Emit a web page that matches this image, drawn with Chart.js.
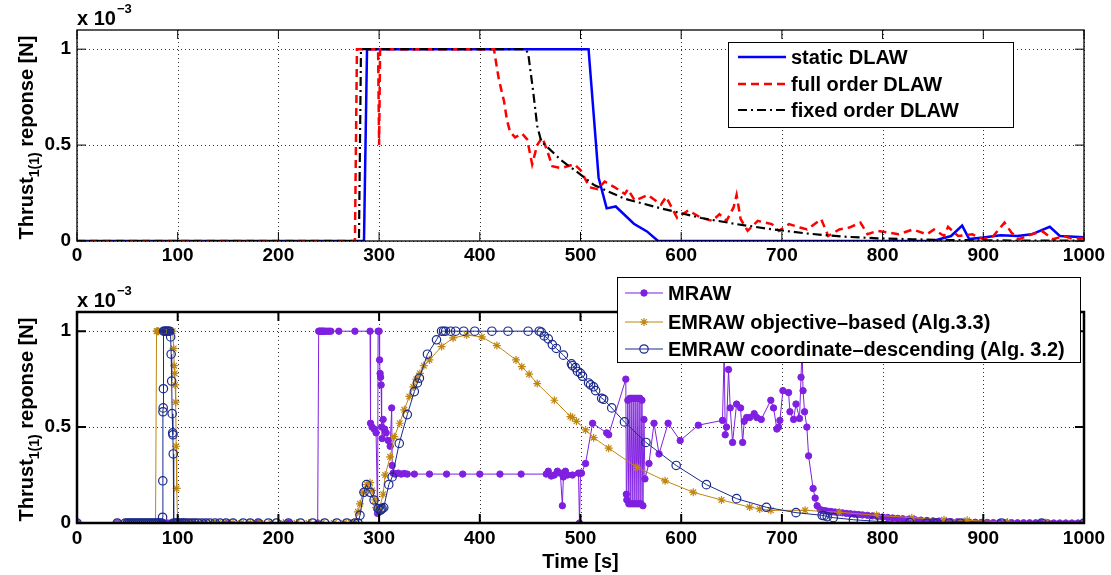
<!DOCTYPE html>
<html>
<head>
<meta charset="utf-8">
<script src="https://cdn.jsdelivr.net/npm/chart.js@4.4.0/dist/chart.umd.min.js"></script>
<style>
  body { margin: 0; background: #fff; width: 1111px; height: 575px; overflow: hidden; position: relative; }
  canvas { position: absolute; left: 0; }
  #topChart { top: 0; width: 1111px; height: 270px; }
  #bottomChart { top: 270px; width: 1111px; height: 305px; }
</style>
</head>
<body>
<canvas id="topChart" width="1111" height="270"></canvas>
<canvas id="bottomChart" width="1111" height="305"></canvas>
<script>
// values are in units of 1e-3 N (axis multiplier shown as "x 10^-3")

// top plot: DLAW responses
const staticT = [0, 285, 288, 508, 518, 526, 535, 553, 566, 577, 850, 868, 879, 886, 900, 917, 934, 948, 966, 976, 1000];
const staticV = [0, 0, 1, 1, 0.33, 0.17, 0.18, 0.09, 0.05, 0, 0, 0.026, 0.08, 0.01, 0.018, 0.03, 0.026, 0.035, 0.074, 0.026, 0.02];

const fullT = [0, 276, 278, 299, 300, 301, 414, 419, 424, 427, 430, 435, 442, 447, 452, 457, 462, 467, 472, 481, 494, 500, 509, 517, 524, 534, 544, 547, 554, 567, 580, 585,
  596, 607, 620, 631, 638, 645, 652, 655, 659, 666, 676, 690, 697, 707, 718, 725, 739, 746, 757, 767, 778, 785, 795, 806, 816, 830, 844, 851, 861, 865, 875, 889, 900, 910, 921, 928, 935, 948, 959, 969, 980, 990, 1000];
const fullV = [0, 0, 1, 1, 0.5, 1, 1, 0.84, 0.73, 0.63, 0.57, 0.54, 0.56, 0.53, 0.40, 0.5, 0.54, 0.47, 0.39, 0.38, 0.40, 0.37, 0.28, 0.27, 0.31, 0.28, 0.245, 0.27, 0.21, 0.24, 0.19, 0.23,
  0.12, 0.16, 0.12, 0.105, 0.14, 0.105, 0.175, 0.24, 0.115, 0.053, 0.105, 0.088, 0.053, 0.088, 0.07, 0.06, 0.114, 0.026, 0.06, 0.07, 0.096, 0.035, 0.053, 0.044, 0.035, 0.06, 0.035, 0.06, 0.026, 0.074, 0.026, 0.035, 0.009, 0.026, 0.096, 0.044, 0.009, 0.035, 0.05, 0.009, 0.026, 0.009, 0.017];

const fixedT = [0, 280, 282, 445, 448, 453, 457, 461, 467, 481, 494, 514, 544, 580, 620, 655, 690, 725, 760, 795, 830, 865, 900, 1000];
const fixedV = [0, 0, 1, 1, 0.98, 0.78, 0.6, 0.52, 0.49, 0.42, 0.37, 0.29, 0.22, 0.17, 0.12, 0.088, 0.061, 0.039, 0.023, 0.014, 0.009, 0.005, 0.003, 0.002];

// bottom plot: MRAW / EMRAW responses
const mrawT = [0, 40, 50, 54, 58, 62, 66, 70, 74, 78, 82, 86, 90, 93, 96, 100, 110, 125, 150, 180, 210, 239,
  240, 241, 242, 243, 244, 245, 246, 248, 250, 252, 260, 276, 291, 291.5, 293, 295, 297,
  298.5, 299, 300, 300.5, 301, 301.5, 302, 302.5, 303, 304, 305.5, 307, 309, 311, 312.5, 313, 314, 316, 319, 322, 325, 328, 335, 350, 367, 383, 400, 420, 441, 466,
  468, 471, 474, 477, 480, 482, 483, 485, 487, 492, 498, 499, 500, 501, 505, 512, 526, 528, 545, 545.5,
  546, 547, 548, 549, 550, 551, 552, 553, 554, 555, 556, 557, 558, 559, 560, 561, 562, 563, 564, 568, 573, 578, 587, 599, 617,
  641, 642.7, 643.7, 645, 647, 648.7, 651, 655, 659, 661, 662.6, 665, 668, 672.5, 675, 679.5, 689, 691.7, 695, 696.7, 698, 701, 706.6, 708, 711.6, 714, 717.5, 719, 720, 721, 722.5, 724.8, 726.5, 731, 733, 735,
  738, 740, 742, 744, 746, 748, 750, 753, 756, 760, 764, 768, 772, 776, 780, 785, 790, 795, 800, 805, 810, 815, 820, 826, 832, 838, 844, 850, 856, 862, 868, 874, 880, 886, 892, 898, 904, 910, 916, 922, 928, 934, 940, 946, 952, 958, 964, 970, 976, 982, 988, 994, 1000];
const mrawV = [0, 0, 0, 0, 0, 0, 0, 0, 0, 0, 0, 0, 0, 0, 0, 0, 0, 0, 0, 0, 0, 0,
  1, 1, 1, 1, 1, 1, 1, 1, 1, 1, 1, 1, 1, 0.52, 0.5, 0.49, 0.47,
  0.05, 1, 1, 0.85, 0.78, 0.76, 0.72, 0.5, 0.44, 0.54, 0.49, 0.47, 0.43, 0.4, 0.6, 0.3, 0.26, 0.255, 0.26, 0.255, 0.258, 0.255, 0.255, 0.255, 0.255, 0.255, 0.255, 0.255, 0.255, 0.255,
  0.27, 0.245, 0.25, 0.27, 0.26, 0.09, 0.24, 0.27, 0.25, 0.25, 0.26, 0, 0.26, 0.26, 0.31, 0.52, 0.47, 0.46, 0.75, 0.15,
  0.12, 0.64, 0.1, 0.65, 0.1, 0.65, 0.1, 0.65, 0.1, 0.65, 0.1, 0.65, 0.1, 0.65, 0.1, 0.64, 0.09, 0.54, 0.23, 0.31, 0.52, 0.36, 0.52, 0.43, 0.51,
  0.535, 0.9, 0.46, 0.5, 0.8, 0.6, 0.42, 0.62, 0.6, 0.42, 0.53, 0.55, 0.55, 0.57, 0.55, 0.54, 0.64, 0.6, 0.49, 0.5, 0.535, 0.69, 0.68, 0.58, 0.54, 0.62, 0.545, 0.76, 0.92, 0.69, 0.58, 0.5, 0.35, 0.18, 0.13, 0.09,
  0.07, 0.065, 0.064, 0.063, 0.06, 0.06, 0.058, 0.057, 0.055, 0.053, 0.05, 0.048, 0.046, 0.044, 0.042, 0.04, 0.037, 0.034, 0.031, 0.029, 0.026, 0.024, 0.022, 0.02, 0.017, 0.015, 0.013, 0.011, 0.01, 0.008, 0.007, 0.006, 0.005, 0.004, 0.004, 0.003, 0.003, 0.002, 0.002, 0.002, 0.002, 0.001, 0.001, 0.001, 0.001, 0.001, 0.001, 0, 0, 0, 0, 0, 0];

const objT = [0, 40, 50, 53, 56, 59, 62, 65, 68, 71, 74, 77, 78, 79, 80, 81, 85, 90, 95, 96, 96.5, 97, 97.5, 98, 98.5, 99, 100,
  103, 106, 110, 114, 118, 123, 128, 134, 140, 147, 155, 163, 172, 182, 193, 205, 218, 230, 243, 255, 265, 272, 276,
  279, 281, 284, 288, 291, 293, 296, 297, 299, 300.5, 304, 306, 311, 315, 320.5, 325, 330, 334, 337, 340.5, 344.4, 350, 362, 373.5, 387, 402, 417, 436, 441.7, 449, 457, 474, 490, 492, 496, 505, 513, 528,
  556, 584, 612, 640, 668, 678, 689, 723, 757, 794, 829, 861, 884, 924, 962, 1000];
const objV = [0, 0, 0, 0, 0, 0, 0, 0, 0, 0, 0, 0, 0, 1, 1, 1, 1, 1, 1, 0.91, 0.82, 0.78, 0.72, 0.63, 0.4, 0.18, 0,
  0, 0, 0, 0, 0, 0, 0, 0, 0, 0, 0, 0, 0, 0, 0, 0, 0, 0, 0, 0, 0, 0, 0,
  0.058, 0.1, 0.16, 0.2, 0.21, 0.17, 0.12, 0.08, 0.066, 0.08, 0.15, 0.25, 0.345, 0.45, 0.52, 0.59, 0.66, 0.71, 0.75, 0.78, 0.82, 0.85, 0.92, 0.965, 0.98, 0.97, 0.925, 0.85, 0.815, 0.776, 0.727, 0.64, 0.555, 0.55, 0.53, 0.485, 0.445, 0.39,
  0.29, 0.22, 0.16, 0.12, 0.083, 0.073, 0.066, 0.066, 0.056, 0.04, 0.028, 0.017, 0.014, 0.005, 0.002, 0];

const coordT = [0, 40, 48, 50, 52, 54, 56, 58, 60, 62, 64, 66, 68, 70, 72, 74, 76, 78, 80, 82, 84, 85, 85.2, 85.4, 85.6, 85.8, 86, 87, 88, 89, 90, 91, 92, 93, 93.5, 94, 94.5, 95, 95.3, 95.6, 96,
  98, 100, 102, 104, 106, 108, 111, 114, 117, 120, 124, 128, 132, 137, 142, 148, 155, 165, 172, 180, 190, 198, 210, 222, 234, 246, 258, 268, 276, 279,
  281, 285, 287.5, 291, 295, 299, 301, 302, 303, 304.6, 309.6, 313, 320, 328, 335, 338, 340, 348, 357, 362, 364, 366, 371, 376, 384, 395, 412, 428, 448, 459,
  461, 464, 468, 472, 476, 483, 491, 492, 495, 497, 500, 502, 508, 510, 513, 515, 521, 523, 531, 543.6, 565, 595, 625, 655, 684.6, 714, 740, 742, 745, 751, 771, 791, 827, 844, 851, 854, 866, 877, 918, 958, 1000];
const coordV = [0, 0, 0, 0, 0, 0, 0, 0, 0, 0, 0, 0, 0, 0, 0, 0, 0, 0, 0, 0, 0, 0.03, 0.22, 0.58, 0.6, 0.7, 1, 1, 1, 1, 1, 1, 1, 0.97, 0.88, 0.74, 0.57, 0.47, 0.46, 0.36, 0,
  0, 0, 0, 0, 0, 0, 0, 0, 0, 0, 0, 0, 0, 0, 0, 0, 0, 0, 0, 0, 0, 0, 0, 0, 0, 0, 0, 0, 0, 0,
  0.04, 0.16, 0.2, 0.16, 0.12, 0.075, 0.066, 0.07, 0.075, 0.08, 0.2, 0.24, 0.415, 0.565, 0.685, 0.73, 0.755, 0.88, 0.955, 1, 1, 1, 1, 1, 1, 1, 1, 1, 1, 1,
  0.995, 0.975, 0.96, 0.93, 0.91, 0.875, 0.83, 0.82, 0.81, 0.79, 0.78, 0.765, 0.73, 0.72, 0.71, 0.69, 0.65, 0.645, 0.6, 0.527, 0.42, 0.3, 0.2, 0.127, 0.082, 0.054, 0.04, 0.038, 0.033, 0.028, 0.017, 0.01, 0.002, 0, 0, 0, 0, 0, 0, 0, 0];

const xTicks = [0, 100, 200, 300, 400, 500, 600, 700, 800, 900, 1000];
const yTicks = [0, 0.5, 1];
const topLabels = ['static DLAW', 'full order DLAW', 'fixed order DLAW'];
const bottomLabels = ['MRAW', 'EMRAW objective\u2013based (Alg.3.3)', 'EMRAW coordinate\u2013descending (Alg. 3.2)'];

const FONT = '"Liberation Sans", Arial, Helvetica, sans-serif';
const purple = '#7f1fe0', gold = '#c0860f', navy = '#1a2a8c';

const pts = (xs, ys) => xs.map((x, i) => ({x: x, y: ys[i]}));

function makeScales(xHeight, xPad) {
  return {
    x: {
      type: 'linear', min: 0, max: 1000,
      grid: {display: false, drawTicks: false}, border: {display: false},
      afterBuildTicks: s => { s.ticks = xTicks.map(v => ({value: v})); },
      afterFit: s => { s.height = xHeight; },
      ticks: {padding: xPad, color: '#000', autoSkip: false, maxRotation: 0,
        font: {family: FONT, size: 19, weight: 'bold'}, callback: v => String(v)}
    },
    y: {
      type: 'linear', min: 0, max: 1.1,
      grid: {display: false, drawTicks: false}, border: {display: false},
      afterBuildTicks: s => { s.ticks = yTicks.map(v => ({value: v})); },
      afterFit: s => { s.width = 77; },
      ticks: {padding: 6, color: '#000', font: {family: FONT, size: 19, weight: 'bold'}, callback: v => String(v)}
    }
  };
}

// matlab-ish frame: dotted grid, full box with inner ticks, multiplier, y label, legend
function matlabAxes(cfg) {
  return {
    id: 'matlabAxes',
    beforeDatasetsDraw(chart) {
      const ctx = chart.ctx, a = chart.chartArea;
      const xs = chart.scales.x, ys = chart.scales.y;
      ctx.save();
      ctx.strokeStyle = 'rgba(0,0,0,0.8)';
      ctx.lineWidth = 1;
      ctx.setLineDash([1, 3]);
      xTicks.forEach(v => {
        const px = Math.round(xs.getPixelForValue(v)) + 0.5;
        ctx.beginPath(); ctx.moveTo(px, a.top); ctx.lineTo(px, a.bottom); ctx.stroke();
      });
      yTicks.forEach(v => {
        const py = Math.round(ys.getPixelForValue(v)) + 0.5;
        ctx.beginPath(); ctx.moveTo(a.left, py); ctx.lineTo(a.right, py); ctx.stroke();
      });
      ctx.restore();
    },
    afterDatasetsDraw(chart) {
      const ctx = chart.ctx, a = chart.chartArea;
      const xs = chart.scales.x, ys = chart.scales.y;
      ctx.save();
      // box + inner ticks
      ctx.strokeStyle = '#000';
      ctx.lineWidth = cfg.boxWidth;
      ctx.strokeRect(a.left, a.top, a.right - a.left, a.bottom - a.top);
      ctx.lineWidth = cfg.boxWidth > 1.5 ? 2 : 1;
      const tl = 9;
      xTicks.forEach(v => {
        const px = xs.getPixelForValue(v);
        ctx.beginPath();
        ctx.moveTo(px, a.bottom); ctx.lineTo(px, a.bottom - tl);
        ctx.moveTo(px, a.top); ctx.lineTo(px, a.top + tl);
        ctx.stroke();
      });
      yTicks.forEach(v => {
        const py = ys.getPixelForValue(v);
        ctx.beginPath();
        ctx.moveTo(a.left, py); ctx.lineTo(a.left + tl, py);
        ctx.moveTo(a.right, py); ctx.lineTo(a.right - tl, py);
        ctx.stroke();
      });

      // "x 10^-3"
      ctx.fillStyle = '#000';
      ctx.textBaseline = 'alphabetic';
      ctx.textAlign = 'left';
      ctx.font = 'bold 20px ' + FONT;
      ctx.fillText('x 10', a.left, a.top - 5);
      const w10 = ctx.measureText('x 10').width;
      ctx.font = 'bold 13px ' + FONT;
      ctx.fillText('\u22123', a.left + w10 + 1, a.top - 17);

      // y label with subscript
      ctx.save();
      ctx.translate(26, (a.top + a.bottom) / 2 + 2);
      ctx.rotate(-Math.PI / 2);
      const big = 'bold 20px ' + FONT, small = 'bold 14px ' + FONT;
      ctx.font = big;
      const w1 = ctx.measureText('Thrust').width;
      const w3 = ctx.measureText(' reponse [N]').width;
      ctx.font = small;
      const w2 = ctx.measureText('1(1)').width;
      let x0 = -(w1 + w2 + w3) / 2;
      ctx.font = big; ctx.fillText('Thrust', x0, 7);
      ctx.font = small; ctx.fillText('1(1)', x0 + w1, 13);
      ctx.font = big; ctx.fillText(' reponse [N]', x0 + w1 + w2, 7);
      ctx.restore();

      if (cfg.xlabel) {
        ctx.font = 'bold 20px ' + FONT;
        ctx.textAlign = 'center';
        ctx.textBaseline = 'middle';
        ctx.fillText(cfg.xlabel, (a.left + a.right) / 2, cfg.xlabelY);
      }

      // legend
      const L = cfg.legend;
      ctx.fillStyle = '#fff';
      ctx.fillRect(L.x, L.y, L.w, L.h);
      ctx.strokeStyle = '#000';
      ctx.lineWidth = 1;
      ctx.setLineDash([]);
      ctx.strokeRect(L.x + 0.5, L.y + 0.5, L.w, L.h);
      chart.data.datasets.forEach((ds, i) => {
        const ry = L.rows[i];
        ctx.save();
        ctx.strokeStyle = ds.borderColor;
        ctx.lineWidth = ds.borderWidth;
        ctx.setLineDash(ds.borderDash || []);
        ctx.beginPath(); ctx.moveTo(L.x1, ry); ctx.lineTo(L.x2, ry); ctx.stroke();
        ctx.setLineDash([]);
        if (ds.pointRadius > 0) {
          ctx.fillStyle = ds.pointBackgroundColor;
          ctx.strokeStyle = ds.pointBorderColor;
          ctx.lineWidth = ds.pointBorderWidth;
          Chart.helpers.drawPoint(ctx, {pointStyle: ds.pointStyle, radius: ds.pointRadius, borderWidth: ds.pointBorderWidth}, (L.x1 + L.x2) / 2, ry);
        }
        ctx.restore();
        ctx.fillStyle = '#000';
        ctx.font = 'bold 20px ' + FONT;
        ctx.textAlign = 'left';
        ctx.textBaseline = 'middle';
        ctx.fillText(ds.label, L.tx, ry + 1);
      });
      ctx.restore();
    }
  };
}

new Chart(document.getElementById('topChart'), {
  type: 'scatter',
  data: {
    datasets: [
      {label: topLabels[0], data: pts(staticT, staticV), showLine: true, borderColor: '#0000ff', borderWidth: 2.5, pointRadius: 0, order: 3},
      {label: topLabels[1], data: pts(fullT, fullV), showLine: true, borderColor: '#ff0000', borderWidth: 2.5, borderDash: [8, 5], pointRadius: 0, order: 2},
      {label: topLabels[2], data: pts(fixedT, fixedV), showLine: true, borderColor: '#000000', borderWidth: 2.2, borderDash: [9, 4, 2, 4], pointRadius: 0, order: 1}
    ]
  },
  options: {
    responsive: false, animation: false,
    layout: {padding: {top: 30, right: 27, left: 0, bottom: 0}},
    plugins: {legend: {display: false}, tooltip: {enabled: false}},
    scales: makeScales(29, 3)
  },
  plugins: [matlabAxes({boxWidth: 1.3,
    legend: {x: 728, y: 42, w: 285, h: 85, rows: [57, 84, 110], x1: 738, x2: 786, tx: 791}})]
});

new Chart(document.getElementById('bottomChart'), {
  type: 'scatter',
  data: {
    datasets: [
      {label: bottomLabels[0], data: pts(mrawT, mrawV), showLine: true, borderColor: purple, borderWidth: 1,
        pointStyle: 'circle', pointRadius: 3.2, pointBackgroundColor: purple, pointBorderColor: purple, pointBorderWidth: 1, order: 3},
      {label: bottomLabels[1], data: pts(objT, objV), showLine: true, borderColor: gold, borderWidth: 1,
        pointStyle: 'star', pointRadius: 4, pointBackgroundColor: gold, pointBorderColor: gold, pointBorderWidth: 1.2, order: 2},
      {label: bottomLabels[2], data: pts(coordT, coordV), showLine: true, borderColor: navy, borderWidth: 1,
        pointStyle: 'circle', pointRadius: 4.2, pointBackgroundColor: 'rgba(0,0,0,0)', pointBorderColor: navy, pointBorderWidth: 1.2, order: 1}
    ]
  },
  options: {
    responsive: false, animation: false,
    layout: {padding: {top: 42, right: 27, left: 0, bottom: 0}},
    plugins: {legend: {display: false}, tooltip: {enabled: false}},
    scales: makeScales(52, 4)
  },
  plugins: [matlabAxes({boxWidth: 2.5, xlabel: 'Time [s]', xlabelY: 292,
    legend: {x: 617, y: 7, w: 463, h: 85, rows: [23, 52, 79], x1: 625, x2: 663, tx: 668}})]
});
</script>
</body>
</html>
